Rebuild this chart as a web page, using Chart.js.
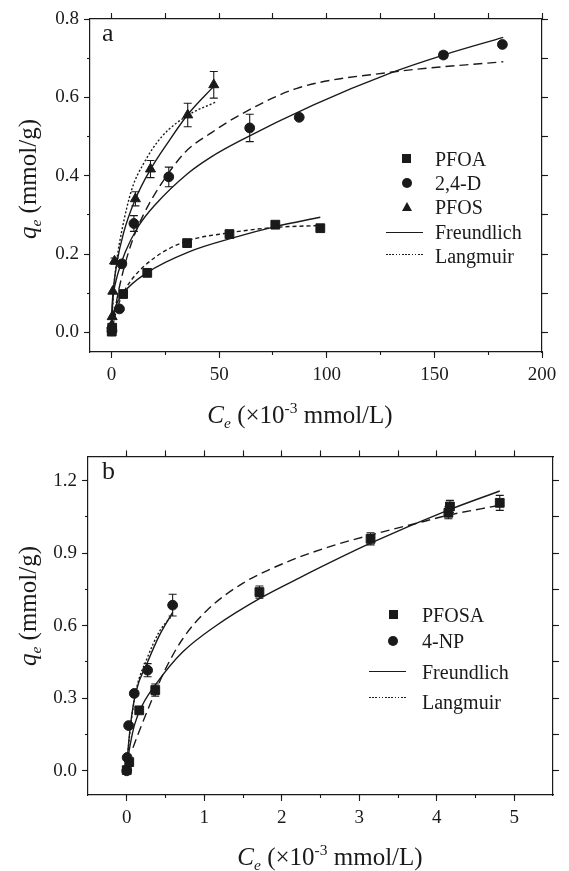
<!DOCTYPE html>
<html>
<head>
<meta charset="utf-8">
<script src="https://cdn.jsdelivr.net/npm/chart.js@4.4.1/dist/chart.umd.min.js"></script>
<style>
  body { margin: 0; background: #fff; }
  #page { position: relative; width: 569px; height: 871px; overflow: hidden;
          font-family: "Liberation Serif", "Times New Roman", serif; color: #1a1a1a; }
  canvas { position: absolute; left: 0; }
  .txt { position: absolute; white-space: nowrap; line-height: 1; }
  .ttl { position: absolute; white-space: nowrap; line-height: 1; font-size: 25px; }
  .ttl sub, .ttl sup { font-size: 0.62em; line-height: 0; }
  .ttl sub { vertical-align: -0.35em; }
  .ttl sup { vertical-align: 0.62em; }
  .leg { position: absolute; white-space: nowrap; line-height: 1; font-size: 20px; }
  .sq { position: absolute; width: 9px; height: 9px; background: #1a1a1a; }
  .ci { position: absolute; width: 10px; height: 10px; border-radius: 50%; background: #1a1a1a; }
  .tri { position: absolute; width: 0; height: 0; border-left: 5px solid transparent;
         border-right: 5px solid transparent; border-bottom: 9px solid #1a1a1a; }
  .ln { position: absolute; height: 1.4px; background: #1a1a1a; }
  .dt { position: absolute; height: 1.3px;
        background: repeating-linear-gradient(to right, #1a1a1a 0 1.6px, transparent 1.6px 3.2px); }
</style>
</head>
<body>
<div id="page">
  <canvas id="chartA" width="569" height="440" style="top:0"></canvas>
  <canvas id="chartB" width="569" height="431" style="top:440px"></canvas>

  <!-- panel a text -->
  <div class="txt" style="left:102px;top:20px;font-size:26px">a</div>
  <div class="ttl" style="left:27px;top:179px;transform:translate(-50%,-50%) rotate(-90deg)"><i>q</i><sub><i>e</i></sub> (mmol/g)</div>
  <div class="ttl" style="left:300px;top:414px;transform:translate(-50%,-50%)"><i>C</i><sub><i>e</i></sub> (&times;10<sup>-3</sup> mmol/L)</div>

  <div class="sq" style="left:402px;top:154px"></div>
  <div class="leg" style="left:435px;top:149px">PFOA</div>
  <div class="ci" style="left:402px;top:178px"></div>
  <div class="leg" style="left:435px;top:173px">2,4-D</div>
  <div class="tri" style="left:402px;top:202px"></div>
  <div class="leg" style="left:435px;top:197px">PFOS</div>
  <div class="ln" style="left:386px;top:232px;width:37px"></div>
  <div class="leg" style="left:435px;top:222px">Freundlich</div>
  <div class="dt" style="left:386px;top:254px;width:37px"></div>
  <div class="leg" style="left:435px;top:246px">Langmuir</div>

  <!-- panel b text -->
  <div class="txt" style="left:102px;top:458px;font-size:26px">b</div>
  <div class="ttl" style="left:27px;top:606px;transform:translate(-50%,-50%) rotate(-90deg)"><i>q</i><sub><i>e</i></sub> (mmol/g)</div>
  <div class="ttl" style="left:330px;top:856px;transform:translate(-50%,-50%)"><i>C</i><sub><i>e</i></sub> (&times;10<sup>-3</sup> mmol/L)</div>

  <div class="sq" style="left:389px;top:610px"></div>
  <div class="leg" style="left:422px;top:605px">PFOSA</div>
  <div class="ci" style="left:388px;top:636px"></div>
  <div class="leg" style="left:422px;top:631px">4-NP</div>
  <div class="ln" style="left:369px;top:671px;width:37px"></div>
  <div class="leg" style="left:422px;top:662px">Freundlich</div>
  <div class="dt" style="left:369px;top:697px;width:37px"></div>
  <div class="leg" style="left:422px;top:692px">Langmuir</div>
</div>

<script>
// ==========================
// PANEL A DATA (x = Ce, y = qe)
// ==========================
const pfoaCe  = [0.1, 0.3, 5.4, 16.6, 35.1, 54.8, 76.1, 97.0];
const pfoaQe  = [0.002, 0.012, 0.098, 0.152, 0.228, 0.251, 0.275, 0.266];
const pfoaErr = [0, 0, 0.006, 0.006, 0.006, 0.006, 0.008, 0.006];

const dCe  = [0.2, 3.7, 4.8, 10.4, 26.6, 64.2, 87.2, 154.2, 181.6];
const dQe  = [0.004, 0.060, 0.175, 0.278, 0.397, 0.522, 0.549, 0.708, 0.735];
const dErr = [0, 0, 0.008, 0.02, 0.025, 0.035, 0, 0.008, 0];

const pfosCe  = [0.1, 0.3, 0.6, 1.4, 11.1, 18.1, 35.4, 47.5];
const pfosQe  = [0.018, 0.04, 0.105, 0.182, 0.341, 0.417, 0.555, 0.632];
const pfosErr = [0, 0, 0, 0.008, 0.018, 0.022, 0.03, 0.034];

// fitted isotherms, panel a
const pfoaFrCe = [0.05, 0.5, 1.5, 5.6, 16.4, 35.7, 58.9, 76.1, 97];
const pfoaFrQe = [0.017, 0.04, 0.062, 0.101, 0.152, 0.205, 0.245, 0.27, 0.294];
const pfoaLaCe = [0.1, 2, 5, 9.4, 20.3, 34.9, 54.3, 76.1, 97];
const pfoaLaQe = [0.003, 0.05, 0.095, 0.135, 0.192, 0.233, 0.254, 0.268, 0.273];

const dFrCe = [0.1, 0.8, 2, 6.4, 12.5, 20.3, 35.7, 46, 58.9, 93.9, 129.5, 154.2, 182];
const dFrQe = [0.04, 0.095, 0.13, 0.205, 0.271, 0.326, 0.407, 0.447, 0.487, 0.581, 0.662, 0.708, 0.753];
const dLaCe = [0.1, 2, 4.8, 9.4, 14.8, 22.6, 34.2, 46.5, 58.9, 86.2, 129.5, 182];
const dLaQe = [0.004, 0.07, 0.143, 0.23, 0.3, 0.375, 0.46, 0.51, 0.553, 0.623, 0.664, 0.691];

const pfosFrCe = [0.05, 0.3, 0.9, 2.5, 5.6, 11, 18, 26.5, 35.7, 47.8];
const pfosFrQe = [0.03, 0.07, 0.113, 0.178, 0.254, 0.339, 0.415, 0.487, 0.558, 0.63];
const pfosLaCe = [0.05, 0.9, 2.5, 4.8, 9.4, 14.8, 23.4, 35.7, 48.9];
const pfosLaQe = [0.01, 0.1, 0.186, 0.26, 0.365, 0.43, 0.5, 0.555, 0.589];

// ==========================
// PANEL B DATA
// ==========================
const pfosaCe  = [0.0, 0.032, 0.161, 0.368, 1.712, 3.146, 4.15, 4.17, 4.813];
const pfosaQe  = [0.003, 0.036, 0.25, 0.334, 0.739, 0.959, 1.067, 1.093, 1.108];
const pfosaErr = [0, 0.01, 0.01, 0.025, 0.025, 0.025, 0.025, 0.025, 0.031];

const npCe  = [0.0, 0.005, 0.024, 0.097, 0.269, 0.592];
const npQe  = [0.0, 0.055, 0.187, 0.32, 0.416, 0.685];
const npErr = [0, 0, 0, 0.01, 0.027, 0.045];

const pfosaFrCe = [0.01, 0.04, 0.1, 0.204, 0.398, 0.721, 1.152, 1.712, 2.229, 3.146, 4.124, 4.813];
const pfosaFrQe = [0.04, 0.1, 0.19, 0.273, 0.368, 0.491, 0.6, 0.712, 0.798, 0.941, 1.075, 1.157];
const pfosaLaCe = [0.08, 0.161, 0.333, 0.506, 0.721, 1.023, 1.496, 2.056, 2.6, 3.146, 3.82, 4.124, 4.813];
const pfosaLaQe = [0.095, 0.164, 0.3, 0.425, 0.545, 0.66, 0.775, 0.862, 0.925, 0.975, 1.03, 1.055, 1.098];

const npFrCe = [0.003, 0.02, 0.054, 0.119, 0.269, 0.42, 0.592];
const npFrQe = [0.03, 0.1, 0.205, 0.327, 0.45, 0.559, 0.655];
const npLaCe = [0.003, 0.02, 0.054, 0.119, 0.269, 0.42, 0.592];
const npLaQe = [0.02, 0.09, 0.195, 0.33, 0.47, 0.575, 0.645];

// ==========================
// AXIS TICKS
// ==========================
const aXMajor = [0, 50, 100, 150, 200];
const aXMinor = [0, 25, 50, 75, 100, 125, 150, 175, 200];
const aYMajor = [0, 0.2, 0.4, 0.6, 0.8];
const aYMinor = [0, 0.1, 0.2, 0.3, 0.4, 0.5, 0.6, 0.7, 0.8];

const bXMajor = [0, 1, 2, 3, 4, 5];
const bXMinor = [0, 0.5, 1, 1.5, 2, 2.5, 3, 3.5, 4, 4.5, 5];
const bYMajor = [0, 0.3, 0.6, 0.9, 1.2];
const bYMinor = [0, 0.15, 0.3, 0.45, 0.6, 0.75, 0.9, 1.05, 1.2];

const INK = "#1a1a1a";
const FONT = "Liberation Serif";


// ==========================
// HELPERS
// ==========================
function pts(xs, ys) {
    return xs.map((x, i) => ({ x: x, y: ys[i] }));
}

function markers(label, xs, ys, errs, style, r) {
    return {
        label: label,
        data: pts(xs, ys),
        errors: errs,
        showLine: false,
        pointStyle: style,
        pointRadius: r,
        pointBackgroundColor: INK,
        pointBorderColor: INK,
        pointBorderWidth: 1,
        xAxisID: "x",
        yAxisID: "y"
    };
}

function curve(label, xs, ys, dash) {
    return {
        label: label,
        data: pts(xs, ys),
        showLine: true,
        pointRadius: 0,
        borderColor: INK,
        borderWidth: 1.4,
        borderDash: dash,
        cubicInterpolationMode: "monotone",
        xAxisID: "x",
        yAxisID: "y"
    };
}

// one side of the frame: a labelled major scale plus a short-tick minor scale
function side(id, pos, min, max, major, minor, size, labels, fmt, pad) {
    let horizontal = pos === "top" || pos === "bottom";
    let setSize = (s, v) => { if (horizontal) s.height = v; else s.width = v; };
    let out = {};
    out[id] = {
        type: "linear", position: pos, min: min, max: max, weight: 1,
        afterBuildTicks: s => { s.ticks = major.map(v => ({ value: v })); },
        afterFit: s => setSize(s, size),
        border: { display: true, color: INK, width: 1.2 },
        grid: { drawOnChartArea: false, tickLength: 6, tickColor: INK, tickWidth: 1.1 },
        ticks: { display: labels, color: INK, padding: pad, font: { family: FONT, size: 19 }, callback: fmt }
    };
    out[id + "m"] = {
        type: "linear", position: pos, min: min, max: max, weight: 0,
        afterBuildTicks: s => { s.ticks = minor.map(v => ({ value: v })); },
        afterFit: s => setSize(s, 0),
        border: { display: false },
        grid: { drawOnChartArea: false, tickLength: 3, tickColor: INK, tickWidth: 1.1 },
        ticks: { display: false }
    };
    return out;
}

// error bars drawn through the chart's own y scale
const errorBars = {
    id: "errorBars",
    afterDatasetsDraw(chart) {
        let ctx = chart.ctx;
        let ys = chart.scales.y;
        chart.data.datasets.forEach((ds, i) => {
            if (!ds.errors) return;
            let meta = chart.getDatasetMeta(i);
            ctx.save();
            ctx.strokeStyle = INK;
            ctx.lineWidth = 1.1;
            meta.data.forEach((p, j) => {
                let e = ds.errors[j];
                if (!e) return;
                let v = ds.data[j].y;
                let t = ys.getPixelForValue(v + e);
                let b = ys.getPixelForValue(v - e);
                ctx.beginPath();
                ctx.moveTo(p.x, t); ctx.lineTo(p.x, b);
                ctx.moveTo(p.x - 4, t); ctx.lineTo(p.x + 4, t);
                ctx.moveTo(p.x - 4, b); ctx.lineTo(p.x + 4, b);
                ctx.stroke();
            });
            ctx.restore();
        });
    }
};

function makeChart(canvasId, datasets, scales) {
    return new Chart(document.getElementById(canvasId), {
        type: "scatter",
        data: { datasets: datasets },
        options: {
            responsive: false,
            animation: false,
            devicePixelRatio: 1,
            layout: { padding: 0 },
            plugins: { legend: { display: false }, tooltip: { enabled: false } },
            scales: scales
        },
        plugins: [errorBars]
    });
}

const fmtInt = v => String(v);
const fmtOne = v => v.toFixed(1);


// ==========================
// PANEL A
// ==========================
makeChart("chartA", [
    markers("PFOA", pfoaCe, pfoaQe, pfoaErr, "rect", 6.2),
    markers("2,4-D", dCe, dQe, dErr, "circle", 4.9),
    markers("PFOS", pfosCe, pfosQe, pfosErr, "triangle", 5.8),
    curve("PFOA Freundlich", pfoaFrCe, pfoaFrQe, []),
    curve("PFOA Langmuir", pfoaLaCe, pfoaLaQe, [4, 3]),
    curve("2,4-D Freundlich", dFrCe, dFrQe, []),
    curve("2,4-D Langmuir", dLaCe, dLaQe, [9, 5]),
    curve("PFOS Freundlich", pfosFrCe, pfosFrQe, []),
    curve("PFOS Langmuir", pfosLaCe, pfosLaQe, [2, 2])
], Object.assign({},
    side("x", "bottom", -10, 200, aXMajor, aXMinor, 88, true, fmtInt, 6),
    side("y", "left", -0.05, 0.8, aYMajor, aYMinor, 90, true, fmtOne, 5),
    side("x2", "top", -10, 200, aXMinor, aXMinor, 19, false, fmtInt, 0),
    side("y2", "right", -0.05, 0.8, aYMinor, aYMinor, 27, false, fmtOne, 0)
));


// ==========================
// PANEL B
// ==========================
makeChart("chartB", [
    markers("PFOSA", pfosaCe, pfosaQe, pfosaErr, "rect", 6.2),
    markers("4-NP", npCe, npQe, npErr, "circle", 4.9),
    curve("PFOSA Freundlich", pfosaFrCe, pfosaFrQe, []),
    curve("PFOSA Langmuir", pfosaLaCe, pfosaLaQe, [9, 5]),
    curve("4-NP Freundlich", npFrCe, npFrQe, []),
    curve("4-NP Langmuir", npLaCe, npLaQe, [2, 2])
], Object.assign({},
    side("x", "bottom", -0.5, 5.5, bXMajor, bXMinor, 76, true, fmtInt, 6),
    side("y", "left", -0.1, 1.3, bYMajor, bYMinor, 88, true, fmtOne, 5),
    side("x2", "top", -0.5, 5.5, bXMinor, bXMinor, 11, false, fmtInt, 0),
    side("y2", "right", -0.1, 1.3, bYMinor, bYMinor, 16, false, fmtOne, 0)
));
</script>
</body>
</html>
